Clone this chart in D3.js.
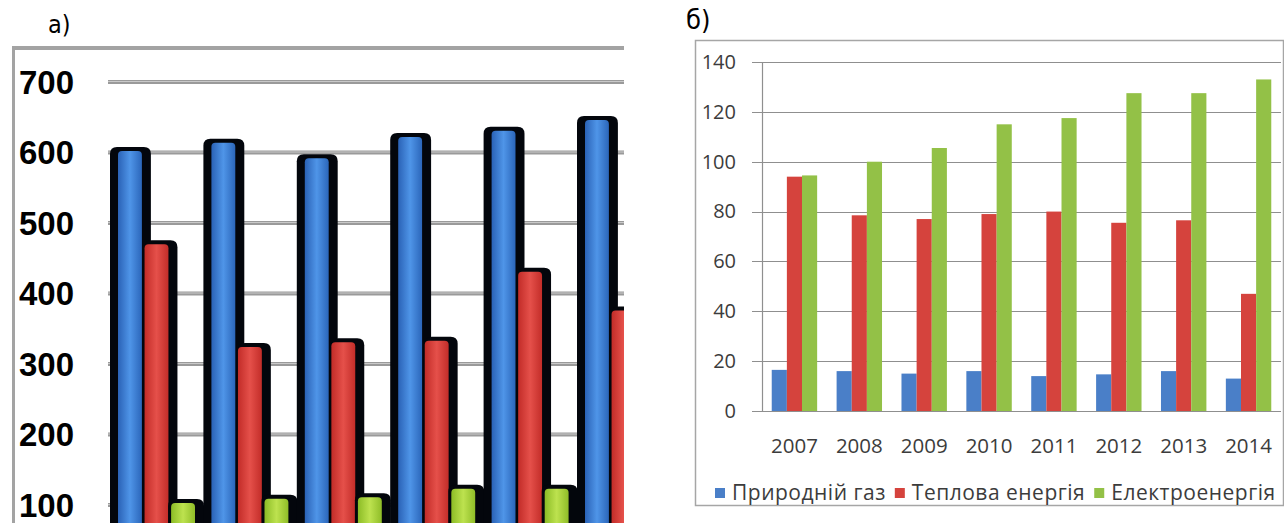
<!DOCTYPE html>
<html>
<head>
<meta charset="utf-8">
<script src="https://cdn.jsdelivr.net/npm/d3@7"></script>
<style>
  body { margin: 0; background: #fff; }
  svg { display: block; }
</style>
</head>
<body>
<svg id="chart" width="1284" height="523"></svg>
<script>
// panel a)
const leftGroups = ["1", "2", "3", "4", "5", "6"];
const leftSeries = ["blue", "red", "green"];
const leftBlue = [602, 614, 592, 622, 631, 646];
const leftRed = [470, 324, 331, 333, 431, 376];
const leftGreen = [103, 109, 111, 123, 123, null];
const leftTicks = [100, 200, 300, 400, 500, 600, 700];

// panel б)
const years = ["2007", "2008", "2009", "2010", "2011", "2012", "2013", "2014"];
const seriesNames = ["Природній газ", "Теплова енергія", "Електроенергія"];
const gas = [16.5, 16, 15, 16, 14, 14.7, 16, 13];
const heat = [94, 78.5, 77, 79, 80, 75.5, 76.5, 47];
const power = [94.5, 100, 105.5, 115, 117.5, 127.5, 127.5, 133];
const rightTicks = [0, 20, 40, 60, 80, 100, 120, 140];

function roundTop(x, y, w, h, r) {
  return `M${x},${y + h} V${y + r} Q${x},${y} ${x + r},${y} H${x + w - r} Q${x + w},${y} ${x + w},${y + r} V${y + h} Z`;
}

function drawLeftChart(svg) {
  let defs = svg.append("defs");
  defs
    .append("clipPath")
    .attr("id", "leftClip")
    .append("rect")
    .attr("x", 15)
    .attr("y", 50)
    .attr("width", 609)
    .attr("height", 473);

  const faces = {
    blue: ["#2a62b6", "#4f95e8", "#2b66ba"],
    red: ["#c22c28", "#e5504a", "#c32d29"],
    green: ["#8cbc26", "#bde24f", "#8fbd28"]
  };
  for (let [key, stops] of Object.entries(faces)) {
    let grad = defs
      .append("linearGradient")
      .attr("id", "grad-" + key)
      .attr("x1", "0%")
      .attr("x2", "100%")
      .attr("y1", "0%")
      .attr("y2", "0%");
    stops.forEach((c, i) => {
      grad.append("stop").attr("offset", i * 50 + "%").attr("stop-color", c);
    });
  }

  let g = svg.append("g");

  let y = d3.scaleLinear().domain([0, 700]).range([575.5, 82]);
  let x = d3.scaleBand().domain(leftGroups).range([108, 668.4]);
  let xs = d3
    .scaleBand()
    .domain(leftSeries)
    .range([10, 87])
    .paddingInner(0.1);
  let shadowLeft = d3.scaleOrdinal().domain(leftSeries).range([8, 0, 3]);

  // frame
  g.append("line")
    .attr("x1", 12)
    .attr("x2", 624)
    .attr("y1", 48)
    .attr("y2", 48)
    .attr("stroke", "#a3a3a3")
    .attr("stroke-width", 4);
  g.append("line")
    .attr("x1", 13.5)
    .attr("x2", 13.5)
    .attr("y1", 46)
    .attr("y2", 523)
    .attr("stroke", "#a3a3a3")
    .attr("stroke-width", 3);

  // grid
  g.selectAll(".grid")
    .data(leftTicks)
    .enter()
    .append("line")
    .attr("class", "grid")
    .attr("x1", 108)
    .attr("x2", 624)
    .attr("y1", (d) => y(d))
    .attr("y2", (d) => y(d))
    .attr("stroke", "#9a9a9a")
    .attr("stroke-width", 4);
  g.selectAll(".gridHi")
    .data(leftTicks)
    .enter()
    .append("line")
    .attr("class", "gridHi")
    .attr("x1", 108)
    .attr("x2", 624)
    .attr("y1", (d) => y(d) - 0.5)
    .attr("y2", (d) => y(d) - 0.5)
    .attr("stroke", "#c9c9c9")
    .attr("stroke-width", 1);

  g.selectAll(".ylab")
    .data(leftTicks)
    .enter()
    .append("text")
    .attr("class", "ylab")
    .attr("x", 74)
    .attr("y", (d) => y(d))
    .attr("dy", "0.36em")
    .attr("text-anchor", "end")
    .style("font-family", "'Liberation Sans', Arial, sans-serif")
    .style("font-weight", "bold")
    .style("font-size", "33px")
    .attr("fill", "#000")
    .text((d) => d);

  let values = [leftBlue, leftRed, leftGreen];
  let bars = leftGroups
    .flatMap((grp, i) => leftSeries.map((s, j) => ({ grp, s, v: values[j][i] })))
    .filter((d) => d.v != null);

  let plot = g.append("g").attr("clip-path", "url(#leftClip)");
  let bw = xs.bandwidth();
  for (let d of bars) {
    let bx = x(d.grp) + xs(d.s);
    let top = y(d.v);
    plot
      .append("path")
      .attr("d", roundTop(bx - shadowLeft(d.s), top - 4, bw + shadowLeft(d.s) + 9, y(0) - top + 4, 7))
      .attr("fill", "#03060c");
    plot
      .append("path")
      .attr("d", roundTop(bx, top, bw, y(0) - top, 4))
      .attr("fill", `url(#grad-${d.s})`);
  }

  g.append("text")
    .attr("x", 48)
    .attr("y", 33)
    .style("font-family", "'Liberation Sans Narrow', 'DejaVu Sans Condensed', sans-serif")
    .style("font-size", "25px")
    .attr("fill", "#000")
    .text("а)");
}

function drawRightChart(svg) {
  let g = svg.append("g");
  const font = "'Open Sans', 'Noto Sans', sans-serif";

  g.append("rect")
    .attr("x", 695.5)
    .attr("y", 40.5)
    .attr("width", 588)
    .attr("height", 465)
    .attr("fill", "#fff")
    .attr("stroke", "#a6a6a6")
    .attr("stroke-width", 1.5);

  let y = d3.scaleLinear().domain([0, 140]).range([411, 62]);
  let x = d3
    .scaleBand()
    .domain(years)
    .range([762, 1281])
    .paddingInner(0.3)
    .paddingOuter(0.15);
  let xs = d3.scaleBand().domain(seriesNames).range([0, x.bandwidth()]);
  let color = d3
    .scaleOrdinal()
    .domain(seriesNames)
    .range(["#4a7fc8", "#d5433d", "#93c147"]);

  g.selectAll(".grid")
    .data(rightTicks)
    .enter()
    .append("line")
    .attr("class", "grid")
    .attr("x1", 752)
    .attr("x2", 1281)
    .attr("y1", (d) => Math.round(y(d)) + 0.5)
    .attr("y2", (d) => Math.round(y(d)) + 0.5)
    .attr("stroke", "#8f8f8f")
    .attr("stroke-width", 1.2);

  g.append("line")
    .attr("x1", 762.5)
    .attr("x2", 762.5)
    .attr("y1", y(140))
    .attr("y2", y(0))
    .attr("stroke", "#8f8f8f")
    .attr("stroke-width", 1.2);

  let yAxis = d3.axisLeft(y).tickValues(rightTicks).tickSize(0).tickPadding(26);
  let ya = g.append("g").attr("transform", "translate(762,0)").call(yAxis);
  ya.select(".domain").remove();
  ya.selectAll("text")
    .style("font-family", font)
    .style("font-size", "20px")
    .attr("fill", "#3c3c3c");

  let xAxis = d3.axisBottom(x).tickSize(0).tickPadding(27);
  let xa = g.append("g").attr("transform", "translate(0,411)").call(xAxis);
  xa.select(".domain").remove();
  xa.selectAll("text")
    .style("font-family", font)
    .style("font-size", "20.5px")
    .attr("fill", "#3c3c3c");

  let values = [gas, heat, power];
  let rows = years.flatMap((yr, i) =>
    seriesNames.map((s, j) => ({ yr, s, v: values[j][i] }))
  );

  g.selectAll(".bar")
    .data(rows)
    .enter()
    .append("rect")
    .attr("class", "bar")
    .attr("x", (d) => x(d.yr) + xs(d.s))
    .attr("y", (d) => y(d.v))
    .attr("width", xs.bandwidth())
    .attr("height", (d) => y(0) - y(d.v))
    .attr("fill", (d) => color(d.s));

  // legend
  let legend = g.append("g").attr("transform", "translate(715,493)");
  let offset = 0;
  for (let s of seriesNames) {
    let item = legend.append("g").attr("transform", `translate(${offset},0)`);
    item
      .append("rect")
      .attr("x", 0)
      .attr("y", -5)
      .attr("width", 10)
      .attr("height", 10)
      .attr("fill", color(s));
    let t = item
      .append("text")
      .attr("x", 17)
      .attr("y", 0)
      .attr("dy", "0.35em")
      .style("font-family", font)
      .style("font-size", "21px")
      .style("letter-spacing", "0.5px")
      .attr("fill", "#3c3c3c")
      .text(s);
    offset += 17 + t.node().getComputedTextLength() + 9;
  }

  g.append("text")
    .attr("x", 686)
    .attr("y", 29)
    .style("font-family", "'Liberation Sans Narrow', 'DejaVu Sans Condensed', sans-serif")
    .style("font-size", "27px")
    .attr("fill", "#000")
    .text("б)");
}

let svg = d3.select("#chart");
drawLeftChart(svg);
drawRightChart(svg);
</script>
</body>
</html>
